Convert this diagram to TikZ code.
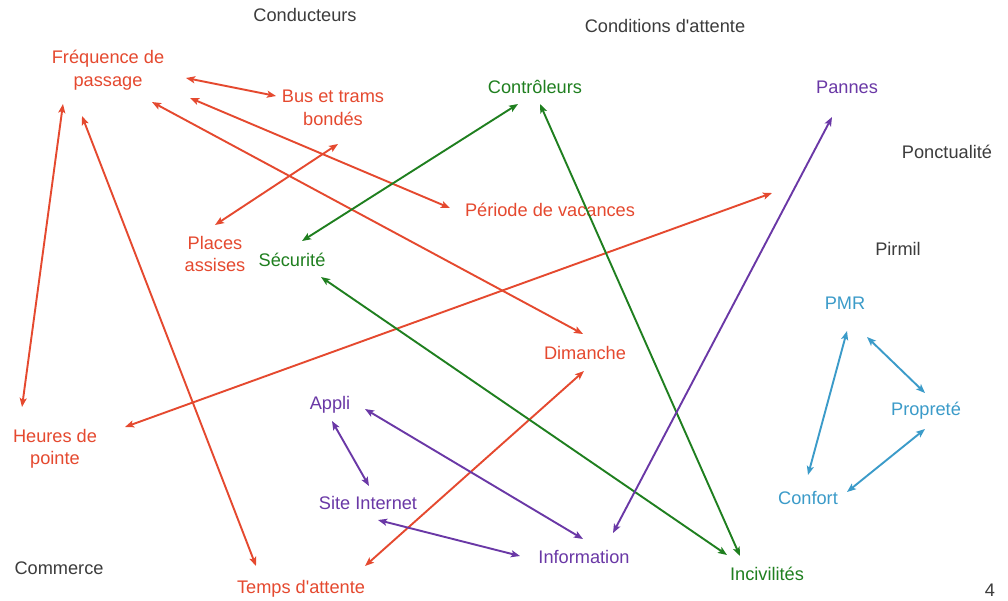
\documentclass[tikz,border=0pt]{standalone}
\usepackage{fontspec}
\setmainfont{Liberation Sans}[Ligatures=TeXOff]
\usetikzlibrary{arrows.meta,calc}
\definecolor{cred}{HTML}{E5492F}
\definecolor{cgreen}{HTML}{1F7F1F}
\definecolor{cpurple}{HTML}{6A38A6}
\definecolor{cblue}{HTML}{3B9BC9}
\definecolor{cgray}{HTML}{3C3C3C}
\tikzset{
  lbl/.style={inner sep=0pt, align=center, font=\fontsize{18.2}{22.5}\selectfont},
  cat/.style={lbl, text=cgray},
  rednode/.style={lbl, text=cred},
  greennode/.style={lbl, text=cgreen},
  purplenode/.style={lbl, text=cpurple},
  bluenode/.style={lbl, text=cblue},
  link/.style={line width=1.9pt, {Stealth[length=9pt,width=7pt,inset=2pt]}-{Stealth[length=9pt,width=7pt,inset=2pt]}},
  redlink/.style={link, draw=cred},
  greenlink/.style={link, draw=cgreen},
  purplelink/.style={link, draw=cpurple},
  bluelink/.style={link, draw=cblue}
}
\begin{document}
\begin{tikzpicture}[x=1pt,y=-1pt]
\useasboundingbox[fill=white] (0,0) rectangle (1008,600);
% category labels
\node[cat] (conducteurs) at (305,15) {Conducteurs};
\node[cat] (conditions) at (665,26) {Conditions d'attente};
\node[cat] (ponct) at (947,152) {Ponctualité};
\node[cat] (pirmil) at (898,249) {Pirmil};
\node[cat] (commerce) at (59,568) {Commerce};
\node[cat] (page) at (990,590) {4};
% red
\node[rednode] (freq) at (108,70) {Fréquence de\\passage};
\node[rednode] (bus) at (333,108) {Bus et trams\\bondés};
\node[rednode] (periode) at (550,210) {Période de vacances};
\node[rednode] (places) at (215,254) {Places\\assises};
\node[rednode] (dimanche) at (585,353) {Dimanche};
\node[rednode] (heures) at (55,449) {Heures de\\pointe};
\node[rednode] (temps) at (301,589) {Temps d'attente};
% green
\node[greennode] (contr) at (535,87) {Contrôleurs};
\node[greennode] (secu) at (292,260) {Sécurité};
\node[greennode] (incivil) at (767,574) {Incivilités};
% purple
\node[purplenode] (pannes) at (847,87) {Pannes};
\node[purplenode] (appli) at (330,405) {Appli};
\node[purplenode] (site) at (368,503) {Site Internet};
\node[purplenode] (info) at (584,557) {Information};
% blue
\node[bluenode] (pmr) at (845,303) {PMR};
\node[bluenode] (proprete) at (926,411) {Propreté};
\node[bluenode] (confort) at (808,498) {Confort};
% red links
\draw[redlink] ($(freq)+(78,8)$) -- ($(bus)+(-57,-12)$);
\draw[redlink] ($(bus)+(5,36)$) -- ($(places)+(0,-29)$);
\draw[redlink] ($(freq)+(82,28)$) -- ($(periode)+(-100,-2)$);
\draw[redlink] ($(freq)+(44,32)$) -- ($(dimanche)+(-2,-19)$);
\draw[redlink] ($(freq)+(-45,34)$) -- ($(heures)+(-33,-42)$);
\draw[redlink] ($(freq)+(-26,46)$) -- ($(temps)+(-45,-23)$);
\draw[redlink] ($(heures)+(70,-22)$) -- ($(ponct)+(-175,41)$);
\draw[redlink] ($(dimanche)+(-1,18)$) -- ($(temps)+(64,-23)$);
% green links
\draw[greenlink] ($(contr)+(-17,17)$) -- ($(secu)+(10,-19)$);
\draw[greenlink] ($(contr)+(5,17)$) -- ($(incivil)+(-27,-18)$);
\draw[greenlink] ($(secu)+(29,17)$) -- ($(incivil)+(-40,-19)$);
% purple links
\draw[purplelink] ($(pannes)+(-15,30)$) -- ($(info)+(29,-24)$);
\draw[purplelink] ($(appli)+(2,16)$) -- ($(site)+(1,-17)$);
\draw[purplelink] ($(appli)+(35,4)$) -- ($(info)+(-1,-18)$);
\draw[purplelink] ($(site)+(10,17)$) -- ($(info)+(-64,-1)$);
% blue links
\draw[bluelink] ($(pmr)+(2,28)$) -- ($(confort)+(0,-23)$);
\draw[bluelink] ($(pmr)+(22,34)$) -- ($(proprete)+(-1,-18)$);
\draw[bluelink] ($(proprete)+(-1,18)$) -- ($(confort)+(39,-6)$);
\end{tikzpicture}
\end{document}
